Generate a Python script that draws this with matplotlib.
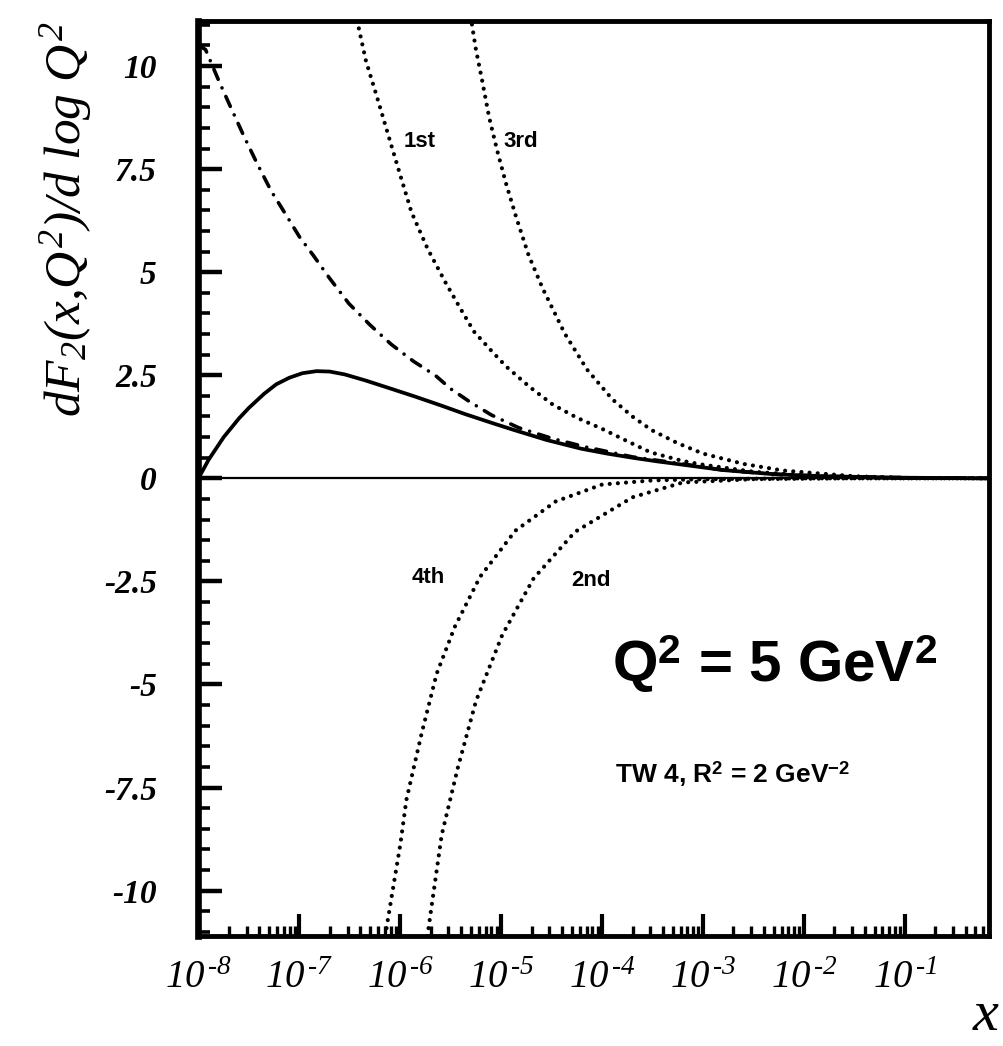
import numpy as np
import matplotlib
matplotlib.use("Agg")
import matplotlib.pyplot as plt
from matplotlib.ticker import MultipleLocator, LogLocator, NullFormatter

plt.rcParams['mathtext.fontset'] = 'custom'
plt.rcParams['mathtext.it'] = 'Liberation Serif:italic'
plt.rcParams['mathtext.rm'] = 'Liberation Serif:italic'
plt.rcParams['mathtext.bf'] = 'Liberation Sans:bold'
plt.rcParams['mathtext.sf'] = 'Liberation Sans:bold'
plt.rcParams['font.family'] = ['Liberation Sans', 'DejaVu Sans']

# ---------------- data ----------------
# exponents of x (log10 x) and dF2/dlogQ2 values
solid_logx = [-8.0, -7.9, -7.75, -7.6, -7.5, -7.35, -7.23, -7.1, -6.97, -6.83, -6.7,
              -6.55, -6.34, -6.1, -5.85, -5.6, -5.36, -5.1, -4.87, -4.55, -4.21,
              -3.95, -3.7, -3.45, -3.23, -2.8, -2.3, -1.8, -1.0, -0.17]
solid_val = [0.0, 0.45, 1.0, 1.45, 1.71, 2.05, 2.28, 2.44, 2.55, 2.6, 2.59,
             2.52, 2.37, 2.18, 1.98, 1.77, 1.56, 1.35, 1.17, 0.93, 0.72,
             0.6, 0.5, 0.41, 0.34, 0.2, 0.1, 0.05, 0.015, 0.0]

dashdot_logx = [-8.0, -7.93, -7.8, -7.69, -7.55, -7.42, -7.28, -7.13, -7.0, -6.86,
                -6.7, -6.51, -6.3, -6.09, -5.87, -5.65, -5.5, -5.32, -5.1, -4.83,
                -4.5, -4.18, -3.7, -3.2, -2.8, -2.3, -1.8, -1.0, -0.17]
dashdot_val = [10.5, 10.4, 9.65, 9.05, 8.3, 7.64, 6.97, 6.38, 5.86, 5.4,
               4.85, 4.24, 3.72, 3.25, 2.84, 2.49, 2.17, 1.87, 1.54, 1.23,
               0.97, 0.77, 0.52, 0.35, 0.2, 0.1, 0.05, 0.015, 0.0]

first_logx = [-6.45, -6.41, -6.34, -6.23, -6.12, -6.01, -5.89, -5.73, -5.55, -5.4,
              -5.27, -5.1, -4.95, -4.72, -4.49, -4.25, -4.0, -3.75, -3.52, -3.2,
              -3.0, -2.5, -2.0, -1.5, -1.0, -0.17]
first_val = [11.5, 10.9, 10.12, 9.24, 8.33, 7.43, 6.46, 5.57, 4.74, 4.1,
             3.56, 3.1, 2.71, 2.22, 1.79, 1.47, 1.2, 0.9, 0.63, 0.42,
             0.33, 0.16, 0.07, 0.03, 0.01, 0.0]

third_logx = [-5.32, -5.29, -5.25, -5.19, -5.12, -5.04, -4.95, -4.85, -4.73, -4.59,
              -4.37, -4.15, -3.9, -3.7, -3.51, -3.25, -3.0, -2.6, -2.21, -1.5,
              -1.0, -0.17]
third_val = [11.6, 11.0, 10.39, 9.66, 8.76, 7.95, 7.13, 6.32, 5.42, 4.61,
             3.51, 2.64, 1.92, 1.5, 1.17, 0.85, 0.6, 0.35, 0.19, 0.05,
             0.01, 0.0]

second_logx = [-5.75, -5.72, -5.59, -5.43, -5.25, -4.99, -4.68, -4.27, -3.7, -3.2,
               -2.5, -1.5, -0.17]
second_val = [-11.5, -10.9, -8.65, -7.02, -5.4, -3.8, -2.43, -1.3, -0.46, -0.1,
              -0.02, 0.0, 0.0]

fourth_logx = [-6.17, -6.13, -6.0, -5.94, -5.79, -5.64, -5.46, -5.21, -4.86, -4.46,
               -4.0, -3.5, -3.0, -2.0, -0.17]
fourth_val = [-11.5, -10.8, -8.88, -7.8, -6.2, -4.74, -3.6, -2.39, -1.27, -0.56,
              -0.15, -0.05, -0.02, 0.0, 0.0]

y_ticks = [-10, -7.5, -5, -2.5, 0, 2.5, 5, 7.5, 10]
y_tick_labels = ["-10", "-7.5", "-5", "-2.5", "0", "2.5", "5", "7.5", "10"]
x_tick_exps = [-8, -7, -6, -5, -4, -3, -2, -1]
x_tick_labels = ["$10^{\\,\u2010" + str(-e) + "}$" for e in x_tick_exps]
curve_labels = ["1st", "3rd", "4th", "2nd"]
# label anchor positions (log10 x, value)
curve_label_logx = [-5.97, -4.98, -5.89, -4.31]
curve_label_val = [8.04, 8.03, -2.53, -2.6]

# ---------------- figure ----------------
fig = plt.figure(figsize=(10.04, 10.46), dpi=100)
ax = fig.add_axes([0.1977, 0.1052, 0.787, 0.875])
ax.set_xscale('log')
ax.set_xlim(1e-8, 10 ** -0.17)
ax.set_ylim(-11.1, 11.1)

def xs(lx):
    return np.power(10.0, np.array(lx, dtype=float))

ax.axhline(0, color='black', lw=1.6, zorder=2)
ax.plot(xs(solid_logx), solid_val, color='black', lw=2.7, solid_capstyle='round',
        solid_joinstyle='round', zorder=3)
ax.plot(xs(dashdot_logx), dashdot_val, color='black', lw=2.6,
        linestyle=(0, (3.0, 2.6, 0.01, 2.6)), dash_capstyle='round', zorder=3)
for lx, v in [(first_logx, first_val), (third_logx, third_val),
              (second_logx, second_val), (fourth_logx, fourth_val)]:
    ax.plot(xs(lx), v, color='black', lw=3.0,
            linestyle=(0, (0.01, 1.95)), dash_capstyle='round', zorder=3)

# spines
for side in ['top', 'right', 'bottom']:
    ax.spines[side].set_linewidth(3.5)
ax.spines['left'].set_linewidth(4.8)

# y axis ticks
ax.set_yticks(y_ticks)
ax.set_yticklabels(y_tick_labels, fontfamily='Liberation Serif', fontstyle='italic',
                   fontweight='bold', fontsize=24)
ax.yaxis.set_minor_locator(MultipleLocator(0.5))
ax.tick_params(axis='y', which='major', direction='in', length=17, width=3.2, pad=30,
               right=False, left=True)
ax.tick_params(axis='y', which='minor', direction='in', length=8.5, width=2.6,
               right=False, left=True)

# x axis ticks
ax.set_xticks(xs(x_tick_exps))
ax.set_xticklabels(x_tick_labels, fontsize=28)
ax.xaxis.set_minor_locator(LogLocator(base=10, subs=np.arange(2, 10), numticks=30))
ax.xaxis.set_minor_formatter(NullFormatter())
ax.tick_params(axis='x', which='major', direction='in', length=16, width=3.0, pad=17,
               top=False, bottom=True)
ax.tick_params(axis='x', which='minor', direction='in', length=7.5, width=2.4,
               top=False, bottom=True)

# axis titles
fig.text(0.066, 0.79, r"$dF_2(x{,}Q^2)/d\ log\ Q^2$", rotation=90, fontsize=37,
         ha='center', va='center')
fig.text(0.982, 0.004, r"$x$", fontsize=42, ha='center', va='bottom')

# curve labels
for txt, lx, v in zip(curve_labels, curve_label_logx, curve_label_val):
    ax.text(10 ** lx, v, txt, fontsize=16, fontweight='bold', fontfamily='Liberation Sans',
            va='baseline', ha='left')

fig.text(0.61, 0.348, r"Q$^{\mathbf{2}}$ = 5 GeV$^{\mathbf{2}}$", fontsize=42,
         fontweight='bold', fontfamily='Liberation Sans', ha='left', va='baseline')
fig.text(0.613, 0.252, r"TW 4, R$^{\mathbf{2}}$ = 2 GeV$^{\mathbf{-2}}$", fontsize=19,
         fontweight='bold', fontfamily='Liberation Sans', ha='left', va='baseline')

fig.savefig("out.png", dpi=100)
